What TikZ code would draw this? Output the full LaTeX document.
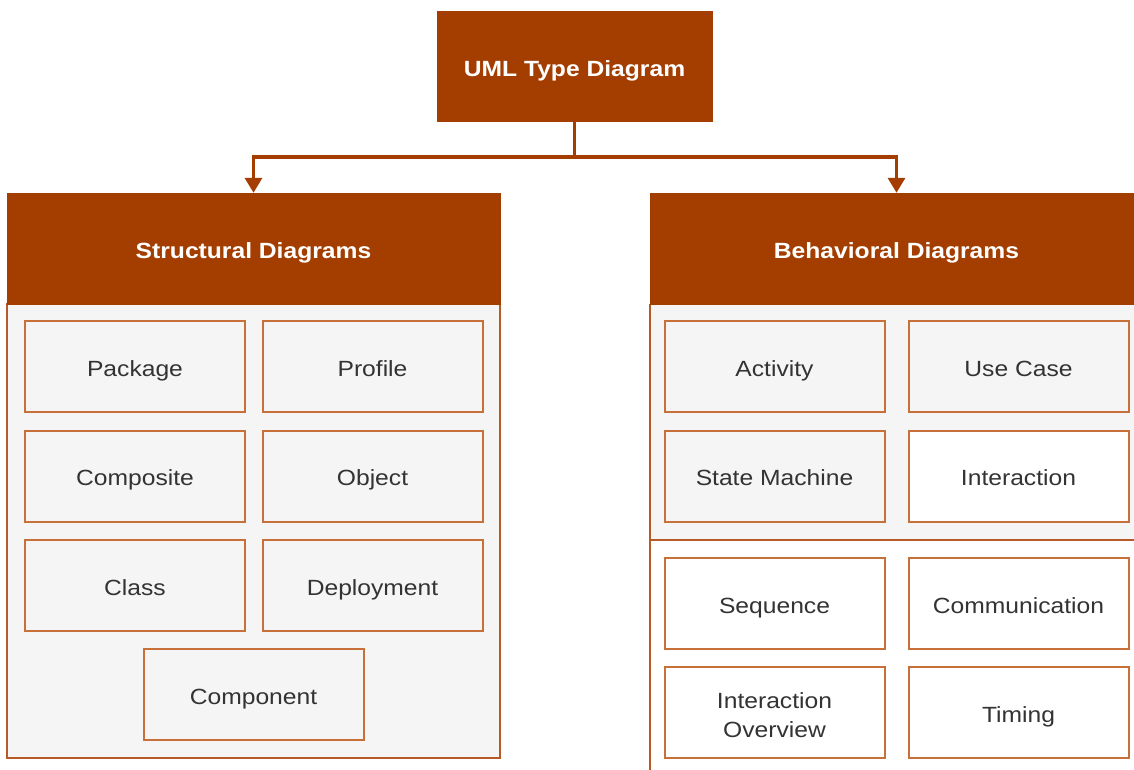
\documentclass[tikz,border=0pt]{standalone}
\usepackage{fontspec}
\setmainfont{Liberation Sans}[FakeStretch=1.12]
\usetikzlibrary{arrows.meta}
\definecolor{hdr}{HTML}{A33E00}
\definecolor{bx}{HTML}{C8703A}
\definecolor{pnl}{HTML}{B85A28}
\definecolor{lgray}{HTML}{F5F5F5}
\definecolor{txt}{HTML}{333333}
\tikzset{
  hdrbox/.style={rectangle, fill=hdr, draw=hdr, text=white, font=\fontsize{22}{26}\selectfont\bfseries, inner sep=0pt, text height=20pt, text depth=1pt},
  itembase/.style={rectangle, draw=bx, line width=2pt, minimum width=220pt, minimum height=91pt, text=txt, font=\fontsize{22}{29}\selectfont, inner sep=0pt},
  itembox/.style={itembase, text height=20pt, text depth=1pt},
  grayitem/.style={itembox, fill=lgray},
  whiteitem/.style={itembox, fill=white},
  conn/.style={draw=hdr, line width=3.2pt},
  arr/.style={conn, -{Triangle[width=17pt,length=15pt]}},
}
\begin{document}
\begin{tikzpicture}[x=1pt,y=-1pt]
\useasboundingbox (0,0) rectangle (1134,770);
\fill[white] (0,0) rectangle (1134,770);
% top node
\node[hdrbox, minimum width=275pt, minimum height=110pt, text height=21pt, text depth=0pt] (top) at (574.5,66) {UML Type Diagram};
% left panel body
\draw[pnl, line width=1.6pt, fill=lgray] (7,304) rectangle (500,758);
\node[hdrbox, minimum width=493pt, minimum height=111pt] (left) at (253.5,248.5) {Structural Diagrams};
% right panel body
\fill[lgray] (650,304) rectangle (1143,540);
\fill[white] (650,540) rectangle (1143,780);
\draw[pnl, line width=1.6pt] (650,304) -- (650,780);
\draw[pnl, line width=1.6pt] (1143,304) -- (1143,780);
\draw[pnl, line width=1.6pt] (650,540) -- (1143,540);
\node[hdrbox, minimum width=493pt, minimum height=111pt] (right) at (896.5,248.5) {Behavioral Diagrams};
% connectors
\coordinate (j) at (574.5,157);
\draw[conn] (top.south) -- (j);
\draw[arr] (j) -| (left.north);
\draw[arr] (j) -| (right.north);
% left items
\node[grayitem] (package) at (135,366.5) {Package};
\node[grayitem] (profile) at (372.5,366.5) {Profile};
\node[grayitem] (composite) at (135,476) {Composite};
\node[grayitem] (object) at (372.5,476) {Object};
\node[grayitem] (class) at (135,585.5) {Class};
\node[grayitem] (deployment) at (372.5,585.5) {Deployment};
\node[grayitem] (component) at (253.5,694.5) {Component};
% right items
\node[grayitem] (activity) at (774.5,366.5) {Activity};
\node[grayitem] (usecase) at (1018.5,366.5) {Use Case};
\node[grayitem] (statemachine) at (774.5,476) {State Machine};
\node[whiteitem] (interaction) at (1018.5,476) {Interaction};
\node[whiteitem] (sequence) at (774.5,603.5) {Sequence};
\node[whiteitem] (communication) at (1018.5,603.5) {Communication};
\node[itembase, fill=white, minimum height=91pt] (intoverview) at (774.5,712.5) {};
\node[text=txt, font=\fontsize{22}{29}\selectfont, align=center, inner sep=0pt] (iolabel) at (774.5,715.5) {Interaction\\Overview};
\node[whiteitem] (timing) at (1018.5,712.5) {Timing};
\end{tikzpicture}
\end{document}
